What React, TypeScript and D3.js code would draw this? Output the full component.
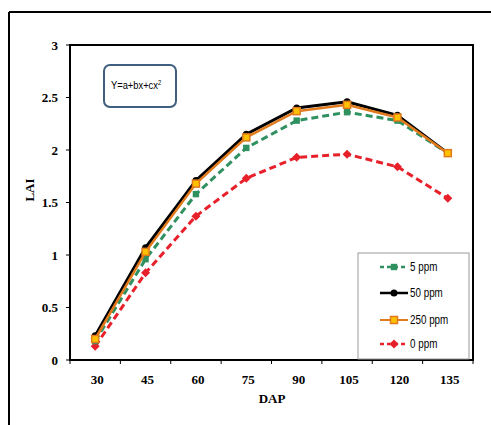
import React from "react";
import * as d3 from "d3";

const categories = ["30", "45", "60", "75", "90", "105", "120", "135"];
const yTicks = [0, 0.5, 1, 1.5, 2, 2.5, 3];
const seriesNames = ["5 ppm", "50 ppm", "250 ppm", "0 ppm"];
const v5 = [0.18, 0.96, 1.58, 2.02, 2.28, 2.36, 2.28, 1.97];
const v50 = [0.23, 1.07, 1.71, 2.15, 2.4, 2.46, 2.33, 1.97];
const v250 = [0.2, 1.03, 1.68, 2.12, 2.37, 2.43, 2.31, 1.97];
const v0 = [0.13, 0.83, 1.37, 1.73, 1.93, 1.96, 1.84, 1.54];

const W = 491;
const H = 425;
const left = 70, right = 473, top = 45, bottom = 360;
const serif = "Liberation Serif, Times New Roman, serif";
const sans = "Liberation Sans Narrow, Liberation Sans, Arial, sans-serif";

export default function App() {
  const x = d3.scaleBand<string>().domain(categories).range([left, right]);
  const y = d3.scaleLinear().domain([0, 3]).range([bottom, top]);
  const cx = (c: string) => (x(c) as number) + x.bandwidth() / 2;
  const line = d3
    .line<number>()
    .x((_, i) => cx(categories[i]))
    .y((d) => y(d));

  const series = [
    { name: seriesNames[3], vals: v0, color: "#e8202a", width: 3, dash: "7,4", marker: "diamond" },
    { name: seriesNames[0], vals: v5, color: "#2f9060", width: 3, dash: "7,4", marker: "square" },
    { name: seriesNames[1], vals: v50, color: "#000", width: 3, dash: "", marker: "circle" },
    { name: seriesNames[2], vals: v250, color: "#e07a1c", width: 2.5, dash: "", marker: "osquare" },
  ];

  const marker = (m: string, px: number, py: number, color: string, key: string, scale = 1) => {
    if (m === "diamond") {
      const s = 4.5 * scale;
      return <path key={key} d={`M${px},${py - s}L${px + s},${py}L${px},${py + s}L${px - s},${py}Z`} fill={color} />;
    }
    if (m === "square") {
      const s = 3.2 * scale;
      return <rect key={key} x={px - s} y={py - s} width={2 * s} height={2 * s} fill={color} />;
    }
    if (m === "circle") {
      return <circle key={key} cx={px} cy={py} r={3.5 * scale} fill={color} />;
    }
    const s = 3.5 * scale;
    return <rect key={key} x={px - s} y={py - s} width={2 * s} height={2 * s} fill="#ffc000" stroke={color} strokeWidth={1.5} />;
  };

  const legendOrder = [series[1], series[2], series[3], series[0]];
  const legY = [267, 293, 320, 344];

  return (
    <svg width={W} height={H} style={{ display: "block", position: "absolute", left: 0, top: 0 }}>
      <rect x={0} y={0} width={W} height={H} fill="#fff" />
      {/* outer frame */}
      <line x1={9} y1={12} x2={W} y2={12} stroke="#000" strokeWidth={2} />
      <line x1={9} y1={12} x2={9} y2={H} stroke="#000" strokeWidth={2} />

      {/* plot box */}
      <rect x={left} y={top} width={right - left} height={bottom - top} fill="none" stroke="#000" strokeWidth={2} />

      {/* y ticks */}
      {yTicks.map((t) => (
        <g key={t}>
          <line x1={left - 4} x2={left} y1={y(t)} y2={y(t)} stroke="#000" strokeWidth={1} />
          <text x={58} y={y(t)} dy="0.35em" textAnchor="end" fontFamily={serif} fontWeight="bold" fontSize={13}>
            {t}
          </text>
        </g>
      ))}
      {/* x ticks */}
      {categories.concat(["end"]).map((c, i) => {
        const xx = left + i * x.bandwidth();
        return <line key={"t" + i} x1={xx} x2={xx} y1={bottom} y2={bottom + 4} stroke="#000" strokeWidth={1} />;
      })}
      {categories.map((c) => (
        <text key={c} x={cx(c) + 2} y={384} textAnchor="middle" fontFamily={serif} fontWeight="bold" fontSize={13}>
          {c}
        </text>
      ))}
      <text x={272} y={403} textAnchor="middle" fontFamily={serif} fontWeight="bold" fontSize={13}>
        DAP
      </text>
      <text transform="translate(34,190) rotate(-90)" textAnchor="middle" fontFamily={serif} fontWeight="bold" fontSize={13}>
        LAI
      </text>

      {/* equation box */}
      <rect x={104} y={65} width={72} height={42} rx={6} fill="#fff" stroke="#3f5f7f" strokeWidth={2} />
      <g transform="translate(111,89) scale(0.85,1)">
        <text x={0} y={0} fontFamily={sans} fontSize={11}>
          Y=a+bx+cx<tspan dy={-4} fontSize={7}>2</tspan>
        </text>
      </g>

      {/* legend */}
      <rect x={358} y={253} width={111} height={106} fill="#fff" stroke="#999" strokeWidth={1} />
      {legendOrder.map((s, i) => (
        <g key={"l" + i}>
          <line x1={380} x2={408} y1={legY[i]} y2={legY[i]} stroke={s.color} strokeWidth={s.width - 0.5} strokeDasharray={s.dash ? "4,3" : ""} />
          {marker(s.marker, 394, legY[i], s.color, "lm" + i, 1)}
          <g transform={`translate(410,${legY[i]}) scale(0.82,1)`}>
            <text x={0} y={0} dy="0.35em" fontFamily={sans} fontSize={12}>
              {s.name}
            </text>
          </g>
        </g>
      ))}

      {/* series */}
      {series.map((s) => (
        <g key={s.name}>
          <path d={line(s.vals) as string} fill="none" stroke={s.color} strokeWidth={s.width} strokeDasharray={s.dash} />
          {s.vals.map((v, i) => marker(s.marker, cx(categories[i]), y(v), s.color, s.name + i))}
        </g>
      ))}
    </svg>
  );
}
